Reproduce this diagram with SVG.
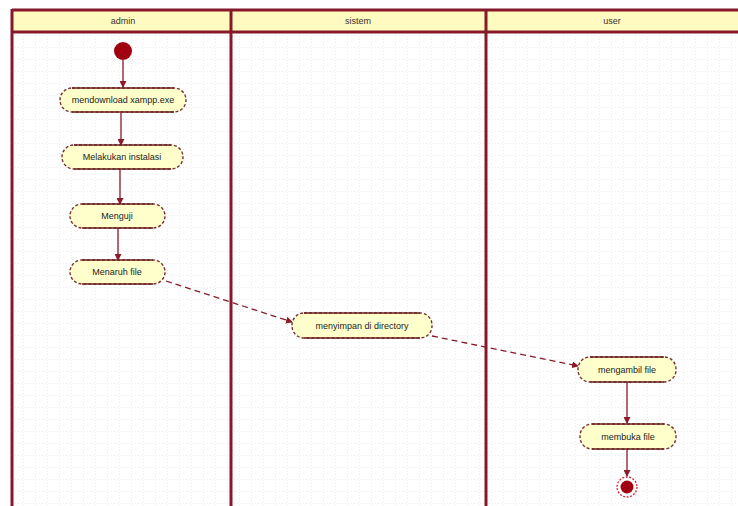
<svg xmlns="http://www.w3.org/2000/svg" width="738" height="506" viewBox="0 0 738 506">
<style>
.lane{stroke:#87182a;stroke-width:3;fill:none}
.hdr{fill:#fffac0}
.ht{font-family:"Liberation Sans",Arial,sans-serif;font-size:9px;fill:#333;text-anchor:middle}
.act{fill:#ffffcc;stroke:#7a3030;stroke-width:1.4;stroke-dasharray:3 2}
.edge{stroke:#6a2020;stroke-width:1.3;fill:none}
.t{font-family:"Liberation Sans",Arial,sans-serif;font-size:9px;fill:#222;text-anchor:middle}
.flow{stroke:#8b1a2a;stroke-width:1.3;fill:none}
.dash{stroke-dasharray:6 4}
</style>
<defs>
<pattern id="grid" width="12" height="12" patternUnits="userSpaceOnUse">
<path d="M12 0V12M0 12H12" stroke="#d8d8d8" stroke-width="1" stroke-dasharray="1 2" fill="none"/>
</pattern>
<marker id="arr" markerWidth="7" markerHeight="7" refX="6" refY="3.5" orient="auto" markerUnits="userSpaceOnUse">
<path d="M0 0L7 3.5L0 7z" fill="#8b1a2a"/>
</marker>
</defs>
<rect width="738" height="506" fill="#fff"/>
<rect x="13" y="33" width="725" height="473" fill="url(#grid)"/>
<g id="swimlanes">
<rect class="hdr" x="13" y="10" width="725" height="22"/>
<line class="lane" x1="12" y1="10" x2="738" y2="10"/>
<line class="lane" x1="12" y1="32" x2="738" y2="32"/>
<line class="lane" x1="12" y1="9" x2="12" y2="506"/>
<line class="lane" x1="231" y1="9" x2="231" y2="506"/>
<line class="lane" x1="486" y1="9" x2="486" y2="506"/>
<text class="ht" x="123" y="24">admin</text>
<text class="ht" x="358" y="24">sistem</text>
<text class="ht" x="612" y="24">user</text>
</g>
<g id="connectors">
<line class="flow" x1="123" y1="60" x2="123" y2="87" marker-end="url(#arr)"/>
<line class="flow" x1="121" y1="113" x2="121" y2="145" marker-end="url(#arr)"/>
<line class="flow" x1="120" y1="169" x2="120" y2="204" marker-end="url(#arr)"/>
<line class="flow" x1="118" y1="228" x2="118" y2="260" marker-end="url(#arr)"/>
<line class="flow dash" x1="166" y1="281" x2="292" y2="322" marker-end="url(#arr)"/>
<line class="flow dash" x1="432" y1="336" x2="578" y2="366" marker-end="url(#arr)"/>
<line class="flow" x1="627" y1="382" x2="627" y2="423" marker-end="url(#arr)"/>
<line class="flow" x1="627" y1="449" x2="627" y2="476" marker-end="url(#arr)"/>
</g>
<g id="start"><circle cx="123" cy="51" r="9" fill="#a00010"/></g>
<g id="n1"><rect class="act" x="60" y="88" width="126" height="24" rx="12"/><line class="edge" x1="72" y1="88" x2="174" y2="88"/><line class="edge" x1="72" y1="112" x2="174" y2="112"/><text class="t" x="123" y="103">mendownload xampp.exe</text></g>
<g id="n2"><rect class="act" x="62" y="145" width="121" height="24" rx="12"/><line class="edge" x1="74" y1="145" x2="171" y2="145"/><line class="edge" x1="74" y1="169" x2="171" y2="169"/><text class="t" x="122" y="160">Melakukan instalasi</text></g>
<g id="n3"><rect class="act" x="70" y="204" width="95" height="24" rx="12"/><line class="edge" x1="82" y1="204" x2="153" y2="204"/><line class="edge" x1="82" y1="228" x2="153" y2="228"/><text class="t" x="117" y="219">Menguji</text></g>
<g id="n4"><rect class="act" x="70" y="260" width="95" height="24" rx="12"/><line class="edge" x1="82" y1="260" x2="153" y2="260"/><line class="edge" x1="82" y1="284" x2="153" y2="284"/><text class="t" x="117" y="275">Menaruh file</text></g>
<g id="n5"><rect class="act" x="292" y="313" width="140" height="25" rx="12"/><line class="edge" x1="304" y1="313" x2="420" y2="313"/><line class="edge" x1="304" y1="338" x2="420" y2="338"/><text class="t" x="362" y="329">menyimpan di directory</text></g>
<g id="n6"><rect class="act" x="578" y="357" width="98" height="25" rx="12"/><line class="edge" x1="590" y1="357" x2="664" y2="357"/><line class="edge" x1="590" y1="382" x2="664" y2="382"/><text class="t" x="627" y="373">mengambil file</text></g>
<g id="n7"><rect class="act" x="580" y="424" width="96" height="25" rx="12"/><line class="edge" x1="592" y1="424" x2="664" y2="424"/><line class="edge" x1="592" y1="449" x2="664" y2="449"/><text class="t" x="628" y="440">membuka file</text></g>
<g id="end"><circle cx="627" cy="487" r="10" fill="#fff" stroke="#d02030" stroke-width="1.3" stroke-dasharray="2 1.5"/><circle cx="627" cy="487" r="6.5" fill="#a00010"/></g>
</svg>
